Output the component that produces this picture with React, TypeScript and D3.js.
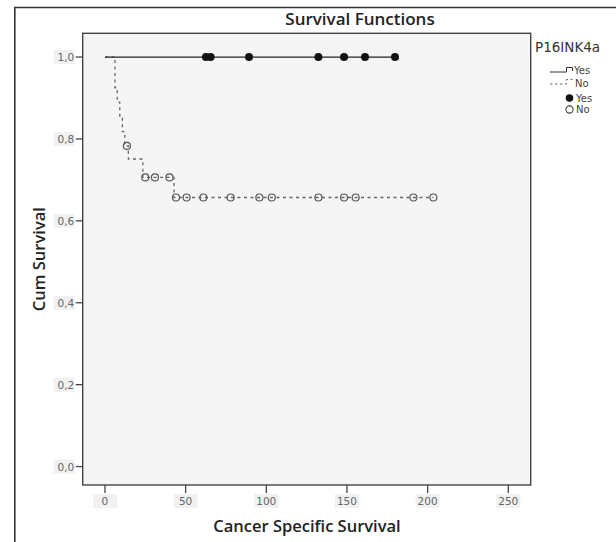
import React from "react";
import * as d3 from "d3";

// ---- data ----
const xTicks = [0, 50, 100, 150, 200, 250];
const yTicks = [0, 0.2, 0.4, 0.6, 0.8, 1.0];
const yTickLabels = ["0,0", "0,2", "0,4", "0,6", "0,8", "1,0"];

// P16INK4a = Yes : no events, censored times
const yesEventTimes: number[] = [];
const yesEventSurvival: number[] = [];
const yesCensorTimes = [62.6, 65.5, 89.3, 132.3, 148.2, 161.2, 179.8];

// P16INK4a = No : event (step) times and survival after each step
const noEventTimes = [6.2, 7.6, 9.2, 10.8, 12.3, 14.5, 23.5, 42.8];
const noEventSurvival = [0.925, 0.89, 0.854, 0.818, 0.783, 0.751, 0.706, 0.657];
const noCensorTimes = [13.6, 25, 31, 40, 44, 50.6, 61, 77.9, 95.7, 103.4, 132.3, 148.2, 155.4, 191.2, 203.6];

const W = 616;
const H = 542;
const plot = { left: 82.7, right: 530.7, top: 33.3, bottom: 485 };

function survivalAt(t: number, times: number[], surv: number[]) {
  let s = 1;
  for (let i = 0; i < times.length; i++) if (times[i] <= t) s = surv[i];
  return s;
}

function stepPoints(times: number[], surv: number[], censors: number[]) {
  const pts: [number, number][] = [[0, 1]];
  times.forEach((t, i) => pts.push([t, surv[i]]));
  const end = d3.max([...times, ...censors]) ?? 0;
  pts.push([end, survivalAt(end, times, surv)]);
  return pts;
}

export default function App() {
  const x = d3.scaleLinear().domain([-13.8, 263.9]).range([plot.left, plot.right]);
  const y = d3.scaleLinear().domain([-0.045, 1.058]).range([plot.bottom, plot.top]);
  const line = d3
    .line<[number, number]>()
    .x((d) => x(d[0]))
    .y((d) => y(d[1]))
    .curve(d3.curveStepAfter);

  const yesPath = line(stepPoints(yesEventTimes, yesEventSurvival, yesCensorTimes)) || "";
  const noPath = line(stepPoints(noEventTimes, noEventSurvival, noCensorTimes)) || "";

  const tickFont = { fontFamily: "DejaVu Sans, sans-serif", fontSize: 10.5, fill: "#666" };
  const titleFont = { fontFamily: "Open Sans, sans-serif", fontWeight: 600, fill: "#222" };

  return (
    <svg
      width={W}
      height={H}
      style={{ position: "absolute", left: 0, top: 0, background: "#fff" }}
    >
      {/* outer frame */}
      <path d={`M14.8,${H + 5} V7.5 H${W + 5}`} fill="none" stroke="#333" strokeWidth={1.6} />

      {/* title */}
      <text x={360} y={25} textAnchor="middle" fontSize={17} {...titleFont}>
        Survival Functions
      </text>

      {/* plot background */}
      <rect
        x={plot.left}
        y={plot.top}
        width={plot.right - plot.left}
        height={plot.bottom - plot.top}
        fill="#f5f5f5"
        stroke="#444"
        strokeWidth={1.4}
      />

      {/* y axis ticks */}
      {yTicks.map((v, i) => (
        <g key={"y" + i}>
          <line x1={plot.left - 7} x2={plot.left} y1={y(v)} y2={y(v)} stroke="#444" strokeWidth={1.3} />
          <rect x={plot.left - 29} y={y(v) - 7} width={21} height={14} fill="#f1f1f1" />
          <text x={plot.left - 8.5} y={y(v) + 4} textAnchor="end" {...tickFont}>
            {yTickLabels[i]}
          </text>
        </g>
      ))}

      {/* x axis ticks */}
      {xTicks.map((v) => (
        <g key={"x" + v}>
          <line x1={x(v)} x2={x(v)} y1={plot.bottom} y2={plot.bottom + 8} stroke="#444" strokeWidth={1.3} />
          <rect x={x(v) - 12} y={plot.bottom + 9} width={24} height={14} fill="#f1f1f1" />
          <text x={x(v)} y={plot.bottom + 20} textAnchor="middle" {...tickFont}>
            {v}
          </text>
        </g>
      ))}

      {/* axis titles */}
      <text x={307} y={532} textAnchor="middle" fontSize={16.5} {...titleFont}>
        Cancer Specific Survival
      </text>
      <text
        transform={`translate(45,${(plot.top + plot.bottom) / 2}) rotate(-90)`}
        textAnchor="middle"
        fontSize={16.5}
        {...titleFont}
      >
        Cum Survival
      </text>

      {/* survival curves */}
      <path d={noPath} fill="none" stroke="#666" strokeWidth={1.3} strokeDasharray="3,3.5" />
      <path d={yesPath} fill="none" stroke="#222" strokeWidth={1.2} />

      {/* censor marks */}
      {noCensorTimes.map((t, i) => (
        <circle
          key={"nc" + i}
          cx={x(t)}
          cy={y(survivalAt(t, noEventTimes, noEventSurvival))}
          r={3.5}
          fill="none"
          stroke="#555"
          strokeWidth={1.2}
        />
      ))}
      {yesCensorTimes.map((t, i) => (
        <circle
          key={"yc" + i}
          cx={x(t)}
          cy={y(survivalAt(t, yesEventTimes, yesEventSurvival))}
          r={4}
          fill="#111"
        />
      ))}

      {/* legend */}
      <g fontFamily="DejaVu Sans, sans-serif">
        <text x={535} y={52} fontSize={13.5} fill="#333">
          P16INK4a
        </text>
        <path d="M550,72 H566.5 V67.5 H572.5 V71" fill="none" stroke="#333" strokeWidth={1} />
        <text x={574} y={74} fontSize={10} fill="#444">
          Yes
        </text>
        <path d="M550,84 H566.5 V79.5 H572.5" fill="none" stroke="#666" strokeWidth={1} strokeDasharray="2.5,2.5" />
        <text x={575} y={86.5} fontSize={10} fill="#444">
          No
        </text>
        <circle cx={569.5} cy={98} r={3.8} fill="#111" />
        <text x={576} y={101.5} fontSize={10} fill="#444">
          Yes
        </text>
        <circle cx={569.5} cy={109.5} r={3.6} fill="none" stroke="#444" strokeWidth={1.1} />
        <text x={576} y={113} fontSize={10} fill="#444">
          No
        </text>
      </g>
    </svg>
  );
}
